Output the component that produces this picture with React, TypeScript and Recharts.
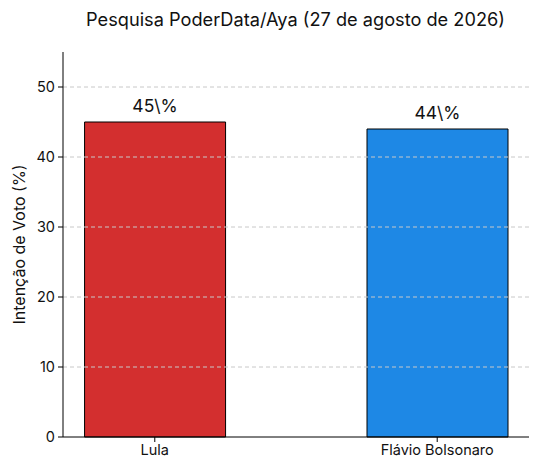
import { BarChart, Bar, XAxis, YAxis, ReferenceLine, Cell, LabelList } from 'recharts';

const candidates = ['Lula', 'Flávio Bolsonaro'];
const votes = [45, 44];
const colors = ['#d32f2f', '#1e88e5'];
const yTicks = [0, 10, 20, 30, 40, 50];
const gridValues = [10, 20, 30, 40, 50];

const data = candidates.map((name, i) => ({ x: i, name, value: votes[i] }));

const FONT = 'Inter, "DejaVu Sans", sans-serif';

export default function App() {
    return (
        <div style={{ position: 'absolute', left: 0, top: 0, width: 538, height: 473, background: '#fff', fontFamily: FONT }}>
            {/* Titre */}
            <div style={{ position: 'absolute', left: 63, width: 465, top: 8, textAlign: 'center', fontSize: 18.2, color: '#111' }}>
                Pesquisa PoderData/Aya (27 de agosto de 2026)
            </div>
            <BarChart
                width={538}
                height={473}
                data={data}
                margin={{ top: 52, right: 9, left: 0, bottom: 6 }}
                style={{ position: 'absolute', left: 0, top: 0 }}
            >
                {/* grille horizontale */}
                {gridValues.map((v) => (
                    <ReferenceLine key={v} y={v} stroke="#c8c8c8" strokeDasharray="4 3" />
                ))}
                <XAxis
                    dataKey="x"
                    type="number"
                    domain={[-0.325, 1.325]}
                    ticks={[0, 1]}
                    tickFormatter={(v) => candidates[v] ?? ''}
                    height={30}
                    stroke="#000"
                    tickSize={5}
                    tick={{ fill: '#111', fontSize: 14.5, fontFamily: FONT }}
                    tickMargin={3}
                    allowDataOverflow
                />
                <YAxis
                    type="number"
                    domain={[0, 55]}
                    ticks={yTicks}
                    width={63}
                    stroke="#000"
                    tickSize={5}
                    tickMargin={3}
                    tick={{ fill: '#111', fontSize: 14.5, fontFamily: FONT }}
                    label={{
                        value: 'Intenção de Voto (%)',
                        angle: -90,
                        position: 'insideLeft',
                        offset: 19.5,
                        style: { textAnchor: 'middle', fill: '#111', fontSize: 16, fontFamily: FONT },
                    }}
                />
                <Bar dataKey="value" barSize={141} stroke="#000" strokeWidth={1} isAnimationActive={false}>
                    {data.map((d, i) => (
                        <Cell key={d.name} fill={colors[i]} />
                    ))}
                    <LabelList
                        dataKey="value"
                        position="top"
                        offset={10}
                        formatter={(v: number) => `${v}\\%`}
                        style={{ fill: '#111', fontSize: 17.5, fontFamily: FONT }}
                    />
                </Bar>
            </BarChart>
        </div>
    );
}
